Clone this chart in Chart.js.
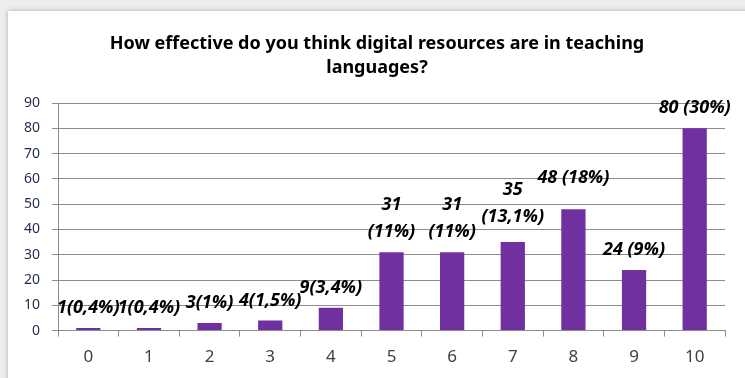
<!DOCTYPE html>
<html>
<head>
<meta charset="utf-8">
<script src="https://cdn.jsdelivr.net/npm/chart.js@4.4.1/dist/chart.umd.min.js"></script>
<style>
  html, body { margin: 0; padding: 0; }
  body { width: 745px; height: 378px; background: #eeeeee; position: relative; overflow: hidden; }
  #card { position: absolute; left: 8px; top: 11px; right: -20px; bottom: -20px; background: #fff; box-shadow: 0 0 5px rgba(0,0,0,0.28); }
  #wrap { position: absolute; left: 0; top: 0; width: 745px; height: 378px; }
</style>
</head>
<body>
<div id="card"></div>
<div id="wrap"><canvas id="chart" width="745" height="378"></canvas></div>
<script>
// Categorías (escala 0-10) y número de respuestas
const categories = ["0", "1", "2", "3", "4", "5", "6", "7", "8", "9", "10"];
const responses = [1, 1, 3, 4, 9, 31, 31, 35, 48, 24, 80];

// Etiquetas de cada barra, tal como aparecen (algunas en dos líneas)
const barLabels = [
  ["1(0,4%)"], ["1(0,4%)"], ["3(1%)"], ["4(1,5%)"], ["9(3,4%)"],
  ["31", "(11%)"], ["31", "(11%)"], ["35", "(13,1%)"],
  ["48 (18%)"], ["24 (9%)"], ["80 (30%)"]
];

const titleLines = ["How effective do you think digital resources are in teaching", "languages?"];

// Plugin para el título (centrado en la tarjeta, no en el área del gráfico)
const titlePlugin = {
  id: "cardTitle",
  afterDraw(chart, args, opts) {
    const ctx = chart.ctx;
    ctx.save();
    ctx.font = "bold 18px 'Noto Sans'";
    ctx.fillStyle = "#000";
    ctx.textAlign = "center";
    ctx.textBaseline = "middle";
    titleLines.forEach((line, i) => {
      ctx.fillText(line, opts.x, opts.y + i * opts.lineHeight);
    });
    ctx.restore();
  }
};

// Plugin para dibujar las etiquetas encima de cada barra
const barLabelPlugin = {
  id: "barLabels",
  afterDatasetsDraw(chart, args, opts) {
    const ctx = chart.ctx;
    const meta = chart.getDatasetMeta(0);
    ctx.save();
    ctx.font = "italic bold 18px 'Noto Sans'";
    ctx.fillStyle = "#000";
    ctx.textAlign = "center";
    ctx.textBaseline = "middle";
    meta.data.forEach((bar, i) => {
      const lines = barLabels[i];
      const lift = opts.lift[i] || 0;
      let y = bar.y - opts.gap - lift;
      for (let l = lines.length - 1; l >= 0; l--) {
        ctx.fillText(lines[l], bar.x, y);
        y -= opts.lineHeight;
      }
    });
    ctx.restore();
  }
};

new Chart(document.getElementById("chart"), {
  type: "bar",
  data: {
    labels: categories,
    datasets: [{
      data: responses,
      backgroundColor: "#7030a0",
      barPercentage: 0.4,
      categoryPercentage: 1.0
    }]
  },
  plugins: [titlePlugin, barLabelPlugin],
  options: {
    responsive: false,
    animation: false,
    layout: { padding: { left: 0, right: 20, top: 103, bottom: 1 } },
    plugins: {
      legend: { display: false },
      tooltip: { enabled: false },
      title: { display: false },
      cardTitle: { x: 377, y: 44, lineHeight: 24 },
      barLabels: { gap: 20, lineHeight: 27, lift: { 7: 5, 8: 11 } }
    },
    scales: {
      x: {
        grid: { offset: true, drawOnChartArea: false, drawTicks: true, tickLength: 6, color: "#8c8c8c" },
        border: { color: "#8c8c8c" },
        ticks: { color: "#404040", font: { family: "'Noto Sans'", size: 17 }, padding: 10 }
      },
      y: {
        min: 0,
        max: 90,
        afterFit(scale) { scale.width = 58; },
        grid: { color: "#8c8c8c", tickLength: 6 },
        border: { color: "#8c8c8c" },
        ticks: { stepSize: 10, color: "#1f2d4d", font: { family: "'Noto Sans'", size: 14 }, padding: 12 }
      }
    }
  }
});
</script>
</body>
</html>
